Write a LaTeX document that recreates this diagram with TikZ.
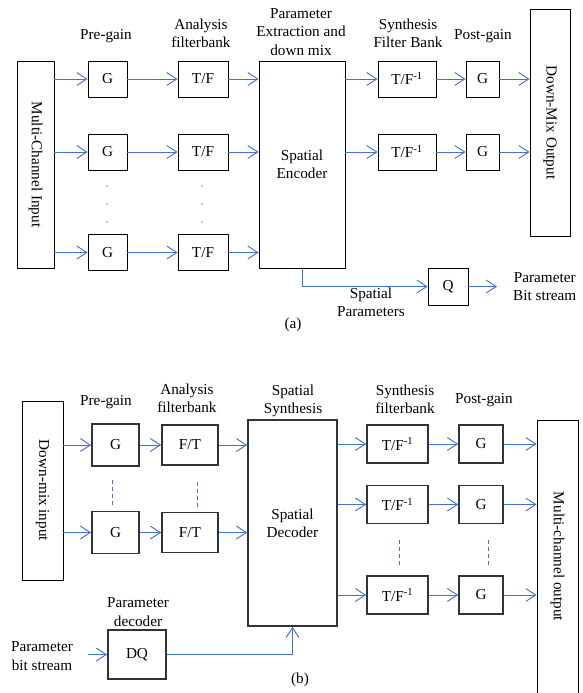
\documentclass[tikz,border=0pt]{standalone}
\usepackage{fontspec}
\setmainfont{Liberation Serif}
\usepackage{tikz}
\usetikzlibrary{arrows.meta}
\definecolor{sigblue}{RGB}{68,114,196}

\begin{document}
\begin{tikzpicture}[x=0.03cm, y=-0.03cm,
    font=\fontsize{13}{15.5}\selectfont,
    >={Straight Barb[length=8.5pt,width=11pt]},
    sz/.style 2 args={minimum width=#1*0.03cm, minimum height=#2*0.03cm},
    blk/.style={draw, line width=0.7pt, inner sep=0pt, align=center},
    tblk/.style={draw=black!80, line width=1.4pt, inner sep=0pt, align=center},
    sig/.style={->, sigblue, line width=0.8pt},
    lbl/.style={align=center, inner sep=0pt}]
  \useasboundingbox (0,0) rectangle (583,693);

  % (a) Encoder
  \node[blk, sz={37}{207}] (mci) at (35.5,164.5) {\rotatebox{-90}{Multi-Channel Input}};
  \node[blk, sz={39}{36}] (ga1) at (107.5,79) {G};
  \node[blk, sz={39}{36}] (ga2) at (107.5,152) {G};
  \node[blk, sz={39}{36}] (ga3) at (107.5,252.5) {G};
  \node[blk, sz={50}{36}] (tfa1) at (203,79) {T/F};
  \node[blk, sz={50}{36}] (tfa2) at (203,152) {T/F};
  \node[blk, sz={50}{36}] (tfa3) at (203,252.5) {T/F};
  \node[blk, sz={86}{207}] (enc) at (302,164.5) {Spatial\\Encoder};
  \node[blk, sz={58}{36}] (itfa1) at (407,79) {T/F\textsuperscript{-1}};
  \node[blk, sz={58}{36}] (itfa2) at (407,152) {T/F\textsuperscript{-1}};
  \node[blk, sz={33}{36}] (pga1) at (482.5,79) {G};
  \node[blk, sz={33}{36}] (pga2) at (482.5,152) {G};
  \node[blk, sz={40}{227}] (dmo) at (550,122.5) {\rotatebox{-90}{Down-Mix Output}};
  \node[blk, sz={40}{37}] (q) at (448,286.5) {Q};
  \coordinate (qout) at (497,286.5);

  % Headers
  \node[lbl] (ha1) at (106,36) {Pre-gain};
  \node[lbl] (ha2) at (201,33) {Analysis\\filterbank};
  \node[lbl] (ha3) at (301,32) {Parameter\\Extraction and\\down mix};
  \node[lbl] (ha4) at (408,33) {Synthesis\\Filter Bank};
  \node[lbl] (ha5) at (483,36) {Post-gain};
  \node[lbl] (spp) at (371,302) {Spatial\\Parameters};
  \node[lbl, anchor=west] (pbs) at (513,287) {Parameter\\Bit stream};
  \node[lbl] (capa) at (293,325) {(a)};

  % Dots
  \fill (107,186) circle (0.6pt) (107,204) circle (0.6pt) (107,222) circle (0.6pt);
  \fill (202,186) circle (0.6pt) (202,204) circle (0.6pt) (202,222) circle (0.6pt);

  % Signal paths
  \draw[sig] (mci.east |- ga1) -- (ga1);
  \draw[sig] (mci.east |- ga2) -- (ga2);
  \draw[sig] (mci.east |- ga3) -- (ga3);
  \draw[sig] (ga1) -- (tfa1);
  \draw[sig] (ga2) -- (tfa2);
  \draw[sig] (ga3) -- (tfa3);
  \draw[sig] (tfa1) -- (enc.west |- tfa1);
  \draw[sig] (tfa2) -- (enc.west |- tfa2);
  \draw[sig] (tfa3) -- (enc.west |- tfa3);
  \draw[sig] (enc.east |- itfa1) -- (itfa1);
  \draw[sig] (enc.east |- itfa2) -- (itfa2);
  \draw[sig] (itfa1) -- (pga1);
  \draw[sig] (itfa2) -- (pga2);
  \draw[sig] (pga1) -- (dmo.west |- pga1);
  \draw[sig] (pga2) -- (dmo.west |- pga2);
  \draw[sig] (enc.south) |- (q.west);
  \draw[sig] (q) -- (qout);

  % (b) Decoder
  \node[blk, sz={41}{179}] (din) at (42.5,490.5) {\rotatebox{-90}{Down-mix input}};
  \node[tblk, sz={47}{42}] (gb1) at (115.5,445) {G};
  \node[tblk, sz={47}{42}] (gb2) at (115.5,532.5) {G};
  \node[tblk, sz={56}{40}] (ftb1) at (190,445) {F/T};
  \node[tblk, sz={56}{40}] (ftb2) at (190,532.5) {F/T};
  \node[tblk, sz={89}{206}] (dec) at (292.5,523) {Spatial\\Decoder};
  \node[tblk, sz={61}{38}] (itfb1) at (397.5,444) {T/F\textsuperscript{-1}};
  \node[tblk, sz={61}{38}] (itfb2) at (397.5,504.5) {T/F\textsuperscript{-1}};
  \node[tblk, sz={61}{38}] (itfb3) at (397.5,595) {T/F\textsuperscript{-1}};
  \node[tblk, sz={44}{38}] (pgb1) at (481,444) {G};
  \node[tblk, sz={44}{38}] (pgb2) at (481,504.5) {G};
  \node[tblk, sz={44}{38}] (pgb3) at (481,595) {G};
  \node[blk, sz={41}{273}] (mco) at (557.5,556.5) {\rotatebox{-90}{Multi-channel output}};
  \node[tblk, sz={58}{49}] (dq) at (137,654.5) {DQ};
  \coordinate (pin) at (88,654.5);

  % Headers
  \node[lbl] (hb1) at (106,402) {Pre-gain};
  \node[lbl] (hb2) at (187,398) {Analysis\\filterbank};
  \node[lbl] (hb3) at (293,401) {Spatial\\Synthesis};
  \node[lbl] (hb4) at (405,399) {Synthesis\\filterbank};
  \node[lbl] (hb5) at (484,400) {Post-gain};
  \node[lbl] (hb6) at (138,612) {Parameter\\decoder};
  \node[lbl] (pbsb) at (42,656) {Parameter\\bit stream};
  \node[lbl] (capb) at (300,680) {(b)};

  % Dashed continuation
  \draw[sigblue, dashed, line width=0.7pt] (112,480) -- (112,505);
  \draw[sigblue, dashed, line width=0.7pt] (197,482) -- (197,507);
  \draw[sigblue, dashed, line width=0.7pt] (399,540) -- (399,566);
  \draw[sigblue, dashed, line width=0.7pt] (488,540) -- (488,566);

  % Signal paths
  \draw[sig] (din.east |- gb1) -- (gb1);
  \draw[sig] (din.east |- gb2) -- (gb2);
  \draw[sig] (gb1) -- (ftb1);
  \draw[sig] (gb2) -- (ftb2);
  \draw[sig] (ftb1) -- (dec.west |- ftb1);
  \draw[sig] (ftb2) -- (dec.west |- ftb2);
  \draw[sig] (dec.east |- itfb1) -- (itfb1);
  \draw[sig] (dec.east |- itfb2) -- (itfb2);
  \draw[sig] (dec.east |- itfb3) -- (itfb3);
  \draw[sig] (itfb1) -- (pgb1);
  \draw[sig] (itfb2) -- (pgb2);
  \draw[sig] (itfb3) -- (pgb3);
  \draw[sig] (pgb1) -- (mco.west |- pgb1);
  \draw[sig] (pgb2) -- (mco.west |- pgb2);
  \draw[sig] (pgb3) -- (mco.west |- pgb3);
  \draw[sig] (pin) -- (dq.west);
  \draw[sig] (dq.east) -| (dec.south);
\end{tikzpicture}
\end{document}
